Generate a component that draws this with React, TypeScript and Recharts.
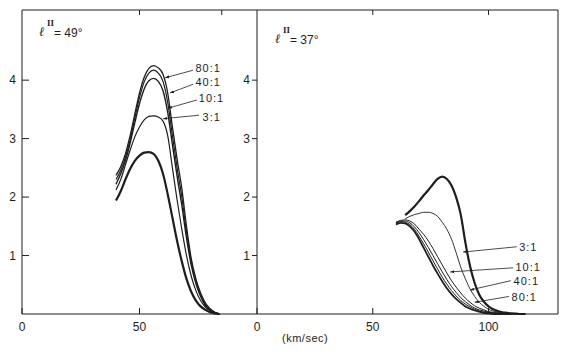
import React from 'react';
import { LineChart, Line, XAxis, YAxis, ReferenceLine, ReferenceDot } from 'recharts';

// l = 49 deg panel, velocity grid (km/sec)
const LEFT_X = [40, 42, 44, 46, 48, 50, 52, 54, 56, 58, 60, 62, 64, 66, 68, 70, 72, 74, 76, 78, 80, 82, 84];
const L_RATIO_1 = [1.94, 2.1, 2.3, 2.48, 2.62, 2.71, 2.76, 2.77, 2.74, 2.62, 2.4, 2.05, 1.65, 1.25, 0.9, 0.6, 0.38, 0.23, 0.13, 0.07, 0.03, 0.01, 0];
const L_RATIO_3 = [2.12, 2.3, 2.55, 2.8, 3.03, 3.2, 3.32, 3.38, 3.39, 3.37, 3.3, 3.05, 2.5, 1.95, 1.45, 1.0, 0.65, 0.4, 0.23, 0.12, 0.05, 0.02, 0];
const L_RATIO_10 = [2.22, 2.4, 2.62, 2.92, 3.27, 3.6, 3.85, 3.99, 4.03, 3.98, 3.82, 3.45, 2.9, 2.36, 1.86, 1.3, 0.84, 0.52, 0.3, 0.15, 0.07, 0.02, 0];
const L_RATIO_40 = [2.3, 2.46, 2.68, 2.98, 3.35, 3.7, 3.97, 4.12, 4.17, 4.12, 3.98, 3.62, 3.05, 2.5, 2.0, 1.4, 0.9, 0.56, 0.33, 0.17, 0.08, 0.03, 0];
const L_RATIO_80 = [2.37, 2.52, 2.74, 3.05, 3.42, 3.78, 4.05, 4.2, 4.25, 4.21, 4.1, 3.78, 3.2, 2.65, 2.15, 1.5, 0.95, 0.6, 0.36, 0.19, 0.09, 0.03, 0];

// l = 37 deg panel
const RIGHT_X = [60, 62, 64, 66, 68, 70, 72, 74, 76, 78, 80, 82, 84, 86, 88, 90, 92, 94, 96, 98, 100, 102, 104, 106, 108, 110, 112, 114, 116];
const R_THICK = [null, null, 1.69, 1.76, 1.84, 1.93, 2.03, 2.12, 2.22, 2.31, 2.35, 2.31, 2.2, 2.0, 1.7, 1.22, 0.82, 0.53, 0.33, 0.21, 0.13, 0.08, 0.05, 0.03, 0.02, 0.01, 0.005, 0, 0];
const R_THIN = [null, null, 1.63, 1.67, 1.7, 1.72, 1.74, 1.74, 1.72, 1.67, 1.57, 1.45, 1.28, 1.05, 0.8, 0.6, 0.43, 0.3, 0.2, 0.13, 0.08, 0.05, 0.03, 0.02, 0.01, 0, 0, 0, null];
const R_BUNDLE_4 = [1.57, 1.6, 1.61, 1.59, 1.54, 1.45, 1.36, 1.25, 1.12, 0.98, 0.84, 0.7, 0.57, 0.46, 0.36, 0.27, 0.2, 0.14, 0.1, 0.07, 0.04, 0.03, 0.02, 0.01, 0, 0, 0, null, null];
const R_BUNDLE_3 = [1.56, 1.59, 1.59, 1.56, 1.49, 1.39, 1.27, 1.14, 1.0, 0.86, 0.72, 0.59, 0.47, 0.37, 0.28, 0.21, 0.15, 0.1, 0.07, 0.05, 0.03, 0.02, 0.01, 0, 0, 0, null, null, null];
const R_BUNDLE_2 = [1.55, 1.58, 1.57, 1.53, 1.45, 1.33, 1.2, 1.06, 0.91, 0.77, 0.63, 0.51, 0.4, 0.31, 0.23, 0.17, 0.12, 0.08, 0.05, 0.03, 0.02, 0.01, 0, 0, 0, 0, null, null, null];
const R_BUNDLE_1 = [1.53, 1.56, 1.55, 1.5, 1.41, 1.28, 1.13, 0.98, 0.83, 0.69, 0.56, 0.44, 0.34, 0.26, 0.19, 0.13, 0.09, 0.06, 0.04, 0.02, 0.01, 0, 0, 0, 0, 0, null, null, null];

const Y_TICKS = [1, 2, 3, 4];
const LEFT_TOP_TICKS = [50, 85];
const LEFT_BOTTOM_TICKS = [0, 50];
const RIGHT_TOP_TICKS = [50, 100];
const RIGHT_BOTTOM_TICKS = [0, 50, 100];

// ratio labels: text anchor point and arrow from -> to, in data units
const LEFT_NOTES = [
  { text: '80:1', tx: 73.4, ty: 4.21, from: [72.8, 4.17], to: [60.9, 4.04] },
  { text: '40:1', tx: 73.4, ty: 3.97, from: [72.8, 3.93], to: [63, 3.78] },
  { text: '10:1', tx: 74.8, ty: 3.69, from: [74.4, 3.66], to: [62.1, 3.52] },
  { text: '3:1', tx: 76.4, ty: 3.37, from: [75.3, 3.4], to: [60, 3.34] },
];
const RIGHT_NOTES = [
  { text: '3:1', tx: 112.8, ty: 1.15, from: [112.2, 1.15], to: [89, 1.06] },
  { text: '10:1', tx: 111.2, ty: 0.8, from: [110.6, 0.79], to: [83.5, 0.72] },
  { text: '40:1', tx: 110.4, ty: 0.56, from: [109.6, 0.57], to: [92, 0.41] },
  { text: '80:1', tx: 109.5, ty: 0.29, from: [108.8, 0.3], to: [94, 0.2] },
];

const leftRows = LEFT_X.map((v, i) => ({
  v, r1: L_RATIO_1[i], r3: L_RATIO_3[i], r10: L_RATIO_10[i], r40: L_RATIO_40[i], r80: L_RATIO_80[i],
}));
const rightRows = RIGHT_X.map((v, i) => ({
  v, thick: R_THICK[i], thin: R_THIN[i], b1: R_BUNDLE_1[i], b2: R_BUNDLE_2[i], b3: R_BUNDLE_3[i], b4: R_BUNDLE_4[i],
}));

const INK = '#1e1e1e';
const FONT = '"Liberation Sans", Arial, sans-serif';
const tickStyle = { fontSize: 12, fill: INK, fontFamily: FONT };
const blank = () => '';

const arrowDefs = (id: string) => (
  <defs>
    <marker id={id} viewBox="0 0 6 6" refX="6" refY="3" markerWidth="5" markerHeight="5" orient="auto">
      <path d="M0,0.8 L6,3 L0,5.2 z" fill={INK} />
    </marker>
  </defs>
);

const renderNotes = (notes: typeof LEFT_NOTES, marker: string) =>
  notes.map((n) => (
    <React.Fragment key={n.text}>
      <ReferenceLine
        segment={[{ x: n.from[0], y: n.from[1] }, { x: n.to[0], y: n.to[1] }]}
        stroke={INK}
        strokeWidth={0.8}
        markerEnd={`url(#${marker})`}
      />
      <ReferenceDot
        x={n.tx}
        y={n.ty}
        r={0}
        stroke="none"
        label={{ value: n.text, position: 'right', offset: 1, fontSize: 11, fill: INK, fontFamily: FONT, letterSpacing: 1 }}
      />
    </React.Fragment>
  ));

const curve = (key: string, w: number) => (
  <Line
    key={key}
    type="monotone"
    dataKey={key}
    stroke={INK}
    strokeWidth={w}
    dot={false}
    connectNulls={false}
    isAnimationActive={false}
  />
);

const LeftPanel = () => (
  <LineChart width={257} height={351} data={leftRows} margin={{ top: 0, right: 0, bottom: 0, left: 0 }}>
    {arrowDefs('arrowL')}
    <XAxis xAxisId="top" orientation="top" type="number" dataKey="v" domain={[0, 100]} ticks={LEFT_TOP_TICKS}
      height={10} tickSize={-5} tickFormatter={blank} stroke={INK} />
    <XAxis type="number" dataKey="v" domain={[0, 100]} ticks={LEFT_BOTTOM_TICKS}
      height={37} tickSize={-6} tickMargin={14} tick={tickStyle} stroke={INK} />
    <YAxis type="number" domain={[0, 5.2]} ticks={Y_TICKS} width={22} tickSize={-7} tickMargin={13}
      tick={tickStyle} stroke={INK} />
    {curve('r1', 2.2)}
    {curve('r3', 1.2)}
    {curve('r10', 1.4)}
    {curve('r40', 1.2)}
    {curve('r80', 1.3)}
    {renderNotes(LEFT_NOTES, 'arrowL')}
  </LineChart>
);

const RightPanel = () => (
  <LineChart width={340} height={351} data={rightRows} margin={{ top: 0, right: 0, bottom: 0, left: 0 }}>
    {arrowDefs('arrowR')}
    <XAxis xAxisId="top" orientation="top" type="number" dataKey="v" domain={[0, 130]} ticks={RIGHT_TOP_TICKS}
      height={10} tickSize={-5} tickFormatter={blank} stroke={INK} />
    <XAxis type="number" dataKey="v" domain={[0, 130]} ticks={RIGHT_BOTTOM_TICKS}
      height={37} tickSize={-6} tickMargin={14} tick={tickStyle} stroke={INK} />
    <YAxis type="number" domain={[0, 5.2]} ticks={Y_TICKS} width={27} tickSize={5} tickMargin={2}
      tick={tickStyle} stroke={INK} />
    <YAxis yAxisId="right" orientation="right" type="number" domain={[0, 5.2]} ticks={Y_TICKS} width={12}
      tickSize={-6} tickFormatter={blank} stroke={INK} />
    {curve('b1', 1.8)}
    {curve('b2', 1.0)}
    {curve('b3', 1.0)}
    {curve('b4', 1.0)}
    {curve('thin', 0.9)}
    {curve('thick', 2.2)}
    {renderNotes(RIGHT_NOTES, 'arrowR')}
  </LineChart>
);

// galactic longitude label: script l, superscript II, then "= NN°"
const Title = ({ left, top, deg }: { left: number; top: number; deg: string }) => (
  <div style={{ position: 'absolute', left, top, width: 50, height: 22, color: INK }}>
    <span style={{ position: 'absolute', left: 0, top: 6, fontFamily: '"DejaVu Serif", serif', fontStyle: 'italic', fontSize: 13, lineHeight: '14px' }}>ℓ</span>
    <span style={{ position: 'absolute', left: 8, top: 0, fontFamily: '"Liberation Serif", serif', fontWeight: 'bold', fontSize: 9, lineHeight: '9px' }}>II</span>
    <span style={{ position: 'absolute', left: 15, top: 8, fontFamily: FONT, fontSize: 12, lineHeight: '12px', whiteSpace: 'nowrap' }}>= {deg}°</span>
  </div>
);

export default function App() {
  return (
    <div style={{ position: 'absolute', left: 0, top: 0, width: 570, height: 351, background: '#fff' }}>
      <div style={{ position: 'absolute', left: 0, top: 0 }}>
        <LeftPanel />
      </div>
      <div style={{ position: 'absolute', left: 230, top: 0 }}>
        <RightPanel />
      </div>
      <Title left={39} top={19} deg="49" />
      <Title left={275} top={26} deg="37" />
      <div style={{ position: 'absolute', left: 282, top: 332, fontFamily: FONT, fontSize: 11, color: INK, letterSpacing: 0.5 }}>
        (km/sec)
      </div>
    </div>
  );
}
